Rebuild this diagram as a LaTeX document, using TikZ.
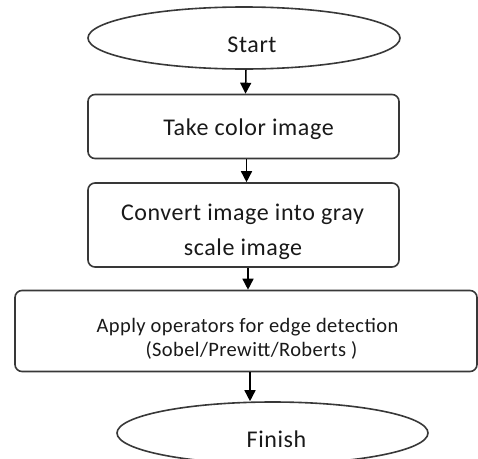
\documentclass[tikz,border=0pt]{standalone}
\usepackage{fontspec}
\setmainfont{Carlito}
\usetikzlibrary{shapes.geometric,arrows.meta}
\begin{document}
\begin{tikzpicture}[x=1pt,y=-1pt,
  outl/.style={draw=black!78, line width=1.6pt, fill=white},
  term/.style={outl, ellipse, inner sep=0pt, minimum width=312pt, minimum height=62pt},
  proc/.style={outl, rectangle, rounded corners=7pt, inner sep=0pt},
  txta/.style={anchor=base, inner sep=0pt, text=black!90, font=\fontsize{24}{28}\selectfont\addfontfeature{LetterSpace=2.5}},
  txtb/.style={anchor=base, inner sep=0pt, text=black!90, font=\fontsize{20.5}{24}\selectfont\addfontfeature{LetterSpace=2}},
  arr/.style={draw=black, line width=1.5pt, -{Triangle[length=11pt,width=11pt]}}]
\useasboundingbox (0,0) rectangle (478,458);

% shapes
\node[term] (start) at (244,38) {};
\node[proc, minimum width=311pt, minimum height=64pt] (b1) at (243.5,126.5) {};
\node[proc, minimum width=311pt, minimum height=84pt] (b2) at (243.5,225) {};
\node[proc, minimum width=462pt, minimum height=81pt] (b3) at (246,331) {};
\node[term, minimum width=311pt] (finish) at (272.5,433) {};

% texts
\node[txta] (tstart) at (252,52.5) {Start};
\node[txta] (tb1) at (248.5,135) {Take color image};
\node[txta] (tb2a) at (242.5,220) {Convert image into gray};
\node[txta] (tb2b) at (243,255) {scale image};
\node[txtb] (tb3a) at (247.5,332) {Apply operators for edge detection};
\node[txtb] (tb3b) at (251.5,356) {(Sobel/Prewitt/Roberts )};
\node[txta] (tfinish) at (276.5,447) {Finish};

% connectors
\draw[arr] ([xshift=2pt]start.south) -- ([xshift=2pt]b1.north);
\draw[arr] ([xshift=3pt]b1.south) -- ([xshift=3pt]b2.north);
\draw[arr] ([xshift=4.5pt]b2.south) -- ([xshift=4.5pt]b2.south |- b3.north);
\draw[arr] ([xshift=4pt]b3.south) -- ([xshift=4pt]b3.south |- finish.north);
\end{tikzpicture}
\end{document}
